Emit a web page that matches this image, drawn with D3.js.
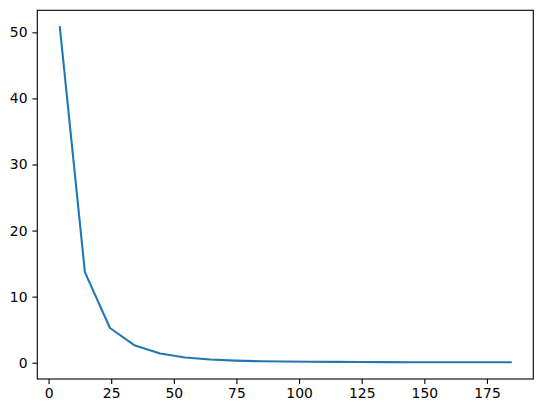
<!DOCTYPE html>
<html>
<head>
<meta charset="utf-8">
<script src="https://cdn.jsdelivr.net/npm/d3@7"></script>
<style>
    body { margin: 0; background: #fff; }
    svg text { font-family: "DejaVu Sans", sans-serif; }
</style>
</head>
<body>
<script>
// Bin centres and the measured values.
const xValues = [4.5, 14.5, 24.5, 34.5, 44.5, 54.5, 64.5, 74.5, 84.5, 94.5, 104.5, 114.5, 124.5, 134.5, 144.5, 154.5, 164.5, 174.5, 184.5];
const yValues = [50.8, 13.7, 5.25, 2.6, 1.4, 0.8, 0.48, 0.32, 0.22, 0.17, 0.14, 0.12, 0.1, 0.09, 0.08, 0.08, 0.08, 0.07, 0.07];
const xTicks = [0, 25, 50, 75, 100, 125, 150, 175];
const yTicks = [0, 10, 20, 30, 40, 50];

const width = 543;
const height = 413;
const marginTop = 10.3;
const marginRight = 9.7;
const marginBottom = 34;
const marginLeft = 37.3;

const points = xValues.map((x, i) => ({ x, y: yValues[i] }));

// Pad the data range by 5% like matplotlib does.
function padded(values) {
    const [lo, hi] = d3.extent(values);
    const pad = (hi - lo) * 0.05;
    return [lo - pad, hi + pad];
}

const x = d3.scaleLinear()
    .domain(padded(xValues))
    .range([marginLeft, width - marginRight]);

const y = d3.scaleLinear()
    .domain(padded(yValues))
    .range([height - marginBottom, marginTop]);

const svg = d3.select("body")
    .append("svg")
        .attr("width", width)
        .attr("height", height);

// Ticks.
const xAxis = svg.append("g")
    .attr("transform", `translate(0,${height - marginBottom})`)
    .call(d3.axisBottom(x).tickValues(xTicks).tickSize(4.9).tickPadding(4).tickSizeOuter(0));

const yAxis = svg.append("g")
    .attr("transform", `translate(${marginLeft},0)`)
    .call(d3.axisLeft(y).tickValues(yTicks).tickSize(4.9).tickPadding(4.9).tickSizeOuter(0));

for (const g of [xAxis, yAxis]) {
    g.select(".domain").remove();
    g.selectAll("line").attr("stroke", "#000").attr("stroke-width", 1.1);
    g.selectAll("text").attr("fill", "#000").style("font-size", "13.9px");
}

// The line.
svg.append("path")
    .datum(points)
    .attr("fill", "none")
    .attr("stroke", "#1f77b4")
    .attr("stroke-width", 2.08)
    .attr("stroke-linejoin", "round")
    .attr("stroke-linecap", "square")
    .attr("d", d3.line()
        .x(d => x(d.x))
        .y(d => y(d.y)));

// Frame around the plot.
svg.append("rect")
    .attr("x", marginLeft)
    .attr("y", marginTop)
    .attr("width", width - marginRight - marginLeft)
    .attr("height", height - marginBottom - marginTop)
    .attr("fill", "none")
    .attr("stroke", "#000")
    .attr("stroke-width", 1.1);
</script>
</body>
</html>
